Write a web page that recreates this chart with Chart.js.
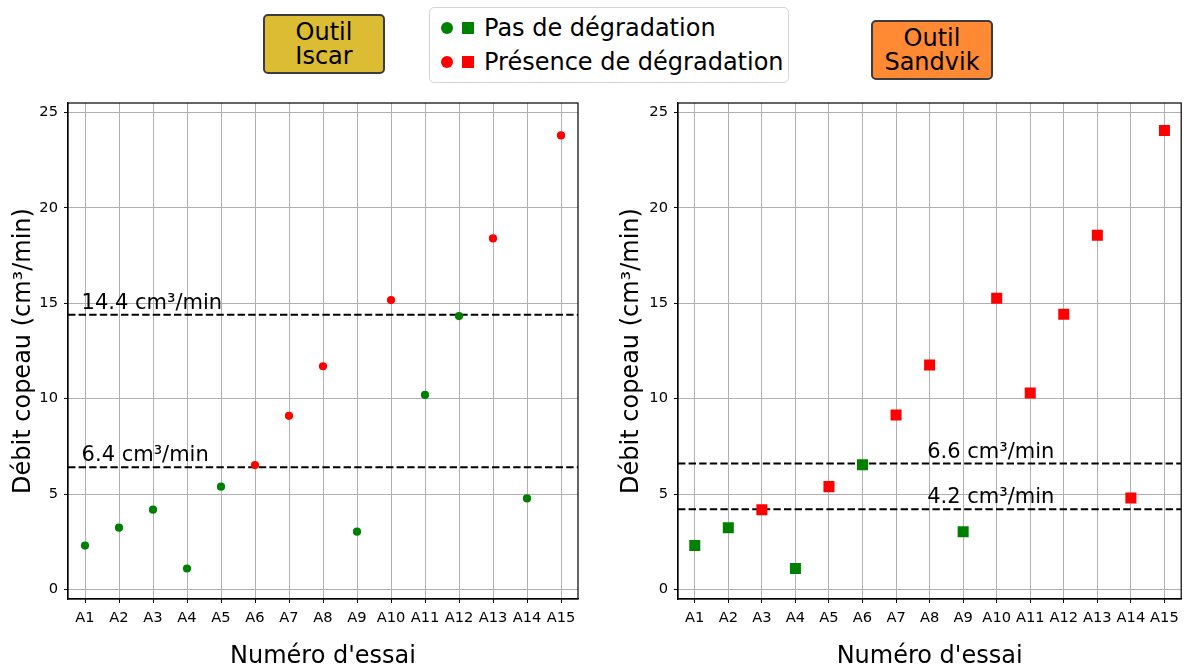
<!DOCTYPE html>
<html>
<head>
<meta charset="utf-8">
<script src="https://cdn.jsdelivr.net/npm/chart.js@4"></script>
<style>
  body { margin:0; width:1189px; height:666px; overflow:hidden; background:#fff; position:relative; font-family:"DejaVu Sans", sans-serif; }
  canvas { position:absolute; top:0; }
  #c1 { left:0; }
  #c2 { left:600px; }
  .tag { position:absolute; box-sizing:border-box; border:2px solid #3c3c3c; border-radius:5px; display:flex; flex-direction:column; align-items:center; justify-content:center; font-size:24px; line-height:24px; color:#000; }
  #legend { position:absolute; left:429px; top:7px; width:360px; height:76px; box-sizing:border-box; border:1px solid #d4d4d4; border-radius:5px; background:#fff; }
  .mk { position:absolute; width:12px; height:12px; }
  .circ { border-radius:50%; }
  .ltxt { position:absolute; font-size:24px; line-height:24px; color:#000; white-space:nowrap; }
</style>
</head>
<body>
<canvas id="c1" width="600" height="666"></canvas>
<canvas id="c2" width="589" height="666"></canvas>

<div class="tag" style="left:263px; top:14px; width:122px; height:60px; background:#dbbc33;"><span>Outil</span><span>Iscar</span></div>
<div class="tag" style="left:871px; top:20px; width:122px; height:60px; background:#ff8a33;"><span>Outil</span><span>Sandvik</span></div>

<div id="legend"></div>
<div class="mk circ" style="left:441px; top:22px; background:#008000;"></div>
<div class="mk" style="left:462px; top:22px; background:#008000;"></div>
<div class="ltxt" style="left:484px; top:16px;">Pas de dégradation</div>
<div class="mk circ" style="left:441px; top:56px; background:#ff0000;"></div>
<div class="mk" style="left:462px; top:56px; background:#ff0000;"></div>
<div class="ltxt" style="left:484px; top:50px;">Présence de dégradation</div>

<script>
// ---- data ----
const categories = ['A1','A2','A3','A4','A5','A6','A7','A8','A9','A10','A11','A12','A13','A14','A15'];
const iscarValues    = [2.3, 3.24, 4.18, 1.1, 5.39, 6.52, 9.1, 11.7, 3.03, 15.17, 10.2, 14.33, 18.4, 4.77, 23.8];
const iscarDegraded  = [0, 0, 0, 0, 0, 1, 1, 1, 0, 1, 0, 0, 1, 0, 1];
const sandvikValues  = [2.3, 3.24, 4.18, 1.1, 5.39, 6.54, 9.15, 11.77, 3.03, 15.27, 10.3, 14.43, 18.57, 4.8, 24.06];
const sandvikDegraded= [0, 0, 1, 0, 1, 0, 1, 1, 0, 1, 1, 1, 1, 1, 1];
const iscarThresholds   = [14.4, 6.4];
const sandvikThresholds = [6.6, 4.2];
const iscarLabelPos   = [-0.1, -0.1];
const sandvikLabelPos = [6.93, 6.93];
const yTicks = [0, 5, 10, 15, 20, 25];

const GREEN = '#008000', RED = '#ff0000', GRID = '#b0b0b0';
const FAM = '"DejaVu Sans", sans-serif';

const refLines = {
  id: 'refLines',
  beforeDatasetsDraw(chart, args, opts) {
    const { ctx, chartArea: a, scales: { x, y } } = chart;
    ctx.save();
    ctx.beginPath(); ctx.rect(a.left, a.top, a.width, a.height); ctx.clip();
    opts.values.forEach((v, i) => {
      const py = y.getPixelForValue(v);
      ctx.setLineDash([7.4, 3.2]);
      ctx.lineWidth = 2; ctx.strokeStyle = '#000';
      ctx.beginPath(); ctx.moveTo(a.left, py); ctx.lineTo(a.right, py); ctx.stroke();
      ctx.setLineDash([]);
      ctx.fillStyle = '#000';
      ctx.font = '21px ' + FAM;
      ctx.textBaseline = 'alphabetic'; ctx.textAlign = 'left';
      ctx.fillText(v.toFixed(1) + ' cm³/min', x.getPixelForValue(opts.labelPos[i]), py - 6);
    });
    ctx.restore();
  }
};

const frame = {
  id: 'frame',
  afterDraw(chart) {
    const { ctx, chartArea: a } = chart;
    ctx.save();
    ctx.strokeStyle = '#000'; ctx.lineWidth = 1.2;
    ctx.strokeRect(a.left, a.top, a.width, a.height);
    ctx.restore();
  }
};

function makeChart(id, values, degraded, thresholds, labelPos, style, radius, geom) {
  const col = c => degraded[c.dataIndex] ? RED : GREEN;
  return new Chart(document.getElementById(id), {
    type: 'line',
    data: {
      labels: categories,
      datasets: [{
        data: values, showLine: false, pointStyle: style,
        pointRadius: radius, pointHoverRadius: radius, pointBorderWidth: 0,
        pointBackgroundColor: col, pointBorderColor: col
      }]
    },
    options: {
      responsive: false, animation: false, devicePixelRatio: 1,
      events: [],
      layout: { padding: { top: geom.top, right: geom.right, left: 0, bottom: 0 } },
      plugins: {
        legend: { display: false }, tooltip: { enabled: false },
        refLines: { values: thresholds, labelPos: labelPos }
      },
      scales: {
        x: {
          type: 'category', offset: true,
          grid: { color: GRID, lineWidth: 1, tickColor: '#000', tickLength: 4, offset: false },
          border: { color: '#000', width: 1.2 },
          ticks: { color: '#000', font: { family: FAM, size: 14.67 }, padding: 6, maxRotation: 0, autoSkip: false },
          title: { display: true, text: "Numéro d'essai", color: '#000', font: { family: FAM, size: 24, lineHeight: 1 }, padding: { top: 0, bottom: -3 } },
          afterFit: s => { s.height = geom.xh; }
        },
        y: {
          min: -0.5, max: 25.5,
          afterBuildTicks: s => { s.ticks = yTicks.map(v => ({ value: v })); },
          grid: { color: GRID, lineWidth: 1, tickColor: '#000', tickLength: 4 },
          border: { color: '#000', width: 1.2 },
          ticks: { color: '#000', font: { family: FAM, size: 14.67 }, padding: 6 },
          title: { display: true, text: 'Débit copeau (cm³/min)', color: '#000', font: { family: FAM, size: 24 }, padding: { top: geom.ytp, bottom: 0 } },
          afterFit: s => { s.width = geom.yw; }
        }
      }
    },
    plugins: [refLines, frame]
  });
}

makeChart('c1', iscarValues, iscarDegraded, iscarThresholds, iscarLabelPos, 'circle', 4.1,
  { top: 103, right: 22, xh: 67, yw: 68, ytp: 9 });
makeChart('c2', sandvikValues, sandvikDegraded, sandvikThresholds, sandvikLabelPos, 'rect', 7.8,
  { top: 103, right: 3, xh: 67, yw: 78, ytp: 17 });
</script>
</body>
</html>
